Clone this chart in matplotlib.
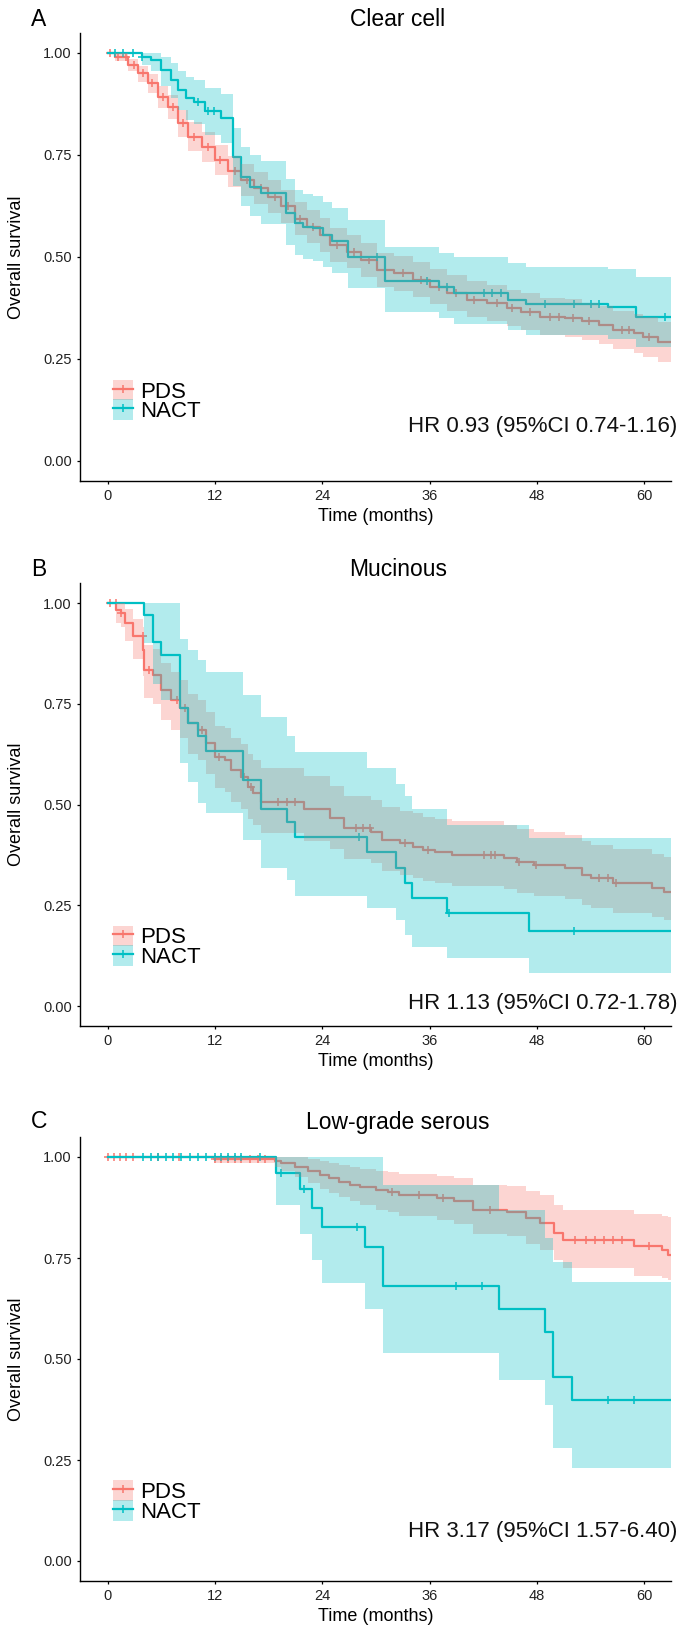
import numpy as np
import matplotlib
matplotlib.use('Agg')
import matplotlib.pyplot as plt
from matplotlib.patches import Patch
from matplotlib.lines import Line2D

plt.rcParams['font.family'] = ['Liberation Sans', 'DejaVu Sans']

# %%
# Kaplan-Meier curves: step times (months), survival, CI
groups = ['PDS', 'NACT']
colors = ['#F8766D', '#00BFC4']
titles = ['Clear cell', 'Mucinous', 'Low-grade serous']
letters = ['A', 'B', 'C']
hr_labels = ['HR 0.93 (95%CI 0.74-1.16)', 'HR 1.13 (95%CI 0.72-1.78)', 'HR 3.17 (95%CI 1.57-6.40)']
hr_y = [0.084, 0.007, 0.073]
x_end = 63
xticks = [0, 12, 24, 36, 48, 60]
yticks = [0, 0.25, 0.5, 0.75, 1.0]

# Clear cell - PDS
a_pds_t = [0, 0.8, 2.3, 3.4, 4.5, 5.6, 6.8, 7.9, 9.0, 10.5, 12.0, 13.5, 14.9, 16.4, 17.9, 19.4, 20.9,
           22.3, 23.8, 24.9, 26.8, 28.3, 30.1, 32.0, 34.2, 36.1, 37.9, 40.2, 42.4, 44.7, 46.2, 48.3,
           51.1, 53.1, 55.0, 56.5, 58.9, 59.9, 61.5]
a_pds_s = [1.0, 0.991, 0.971, 0.95, 0.926, 0.893, 0.868, 0.828, 0.795, 0.77, 0.738, 0.71, 0.689, 0.669,
           0.648, 0.624, 0.594, 0.574, 0.554, 0.529, 0.513, 0.493, 0.468, 0.46, 0.444, 0.427, 0.411,
           0.395, 0.387, 0.374, 0.366, 0.354, 0.35, 0.342, 0.333, 0.321, 0.313, 0.305, 0.292]
a_pds_lo = [1.0, 0.981, 0.955, 0.93, 0.903, 0.866, 0.838, 0.795, 0.76, 0.734, 0.701, 0.672, 0.65, 0.63,
            0.608, 0.584, 0.554, 0.534, 0.513, 0.488, 0.472, 0.451, 0.426, 0.417, 0.401, 0.384, 0.368,
            0.352, 0.343, 0.33, 0.321, 0.309, 0.304, 0.296, 0.286, 0.274, 0.265, 0.256, 0.243]
a_pds_hi = [1.0, 1.0, 0.985, 0.968, 0.948, 0.918, 0.896, 0.86, 0.83, 0.806, 0.775, 0.748, 0.728, 0.708,
            0.688, 0.664, 0.634, 0.614, 0.595, 0.57, 0.555, 0.535, 0.51, 0.503, 0.487, 0.47, 0.455,
            0.44, 0.432, 0.419, 0.412, 0.4, 0.396, 0.388, 0.38, 0.368, 0.36, 0.352, 0.34]
a_pds_c = [0.3, 1.2, 2.0, 2.9, 3.9, 5.0, 6.2, 7.3, 8.4, 9.6, 11.2, 12.6, 14.2, 15.6, 17.2, 18.7, 20.2,
           21.5, 23.0, 25.6, 27.5, 29.2, 31.0, 33.0, 35.0, 37.0, 39.0, 41.0, 43.5, 45.2, 47.2, 49.5,
           50.5, 52.0, 53.8, 57.5, 58.3, 60.5]

# Clear cell - NACT
a_nact_t = [0, 3.8, 4.9, 6.0, 7.1, 7.9, 8.8, 9.7, 10.9, 12.7, 14.0, 14.9, 15.9, 17.2, 19.9, 21.0, 21.9,
            23.0, 24.1, 25.1, 26.9, 31.0, 37.0, 38.7, 44.8, 46.8, 56.0, 59.1]
a_nact_s = [1.0, 0.99, 0.983, 0.958, 0.934, 0.909, 0.889, 0.881, 0.857, 0.84, 0.746, 0.697, 0.672, 0.656,
            0.607, 0.583, 0.574, 0.57, 0.554, 0.538, 0.501, 0.44, 0.427, 0.411, 0.395, 0.385, 0.378, 0.354]
a_nact_lo = [1.0, 0.97, 0.955, 0.92, 0.89, 0.86, 0.835, 0.825, 0.8, 0.78, 0.675, 0.625, 0.6, 0.58,
             0.53, 0.505, 0.495, 0.49, 0.475, 0.46, 0.425, 0.365, 0.35, 0.335, 0.32, 0.31, 0.3, 0.28]
a_nact_hi = [1.0, 1.0, 1.0, 0.99, 0.975, 0.955, 0.94, 0.935, 0.915, 0.9, 0.815, 0.77, 0.75, 0.735,
             0.69, 0.665, 0.655, 0.65, 0.635, 0.62, 0.59, 0.525, 0.51, 0.5, 0.485, 0.475, 0.47, 0.452]
a_nact_c = [0.8, 1.7, 2.8, 3.8, 10.1, 11.2, 11.9, 30.1, 35.7, 38.0, 42.1, 43.0, 44.0, 48.9, 52.1,
            54.0, 55.0, 62.3]

# Mucinous - PDS
b_pds_t = [0, 0.98, 1.5, 1.9, 2.83, 3.95, 4.1, 5.07, 6.0, 7.1, 8.05, 9.0, 10.1, 11.05, 12.0, 13.1, 13.8,
           14.9, 15.7, 16.2, 17.1, 22.0, 24.9, 26.4, 29.5, 30.7, 32.7, 34.1, 35.3, 36.6, 38.5, 44.3,
           45.8, 47.7, 51.1, 53.1, 54.0, 56.5, 60.9, 62.2]
b_pds_s = [1.0, 0.983, 0.975, 0.95, 0.917, 0.884, 0.834, 0.821, 0.784, 0.76, 0.739, 0.702, 0.685, 0.652,
           0.619, 0.61, 0.586, 0.569, 0.544, 0.528, 0.507, 0.49, 0.466, 0.441, 0.432, 0.412, 0.404,
           0.395, 0.387, 0.383, 0.375, 0.367, 0.358, 0.35, 0.342, 0.325, 0.317, 0.305, 0.292, 0.284]
b_pds_lo = [1.0, 0.95, 0.94, 0.905, 0.86, 0.82, 0.765, 0.75, 0.71, 0.685, 0.665, 0.625, 0.61, 0.575,
            0.54, 0.53, 0.505, 0.49, 0.465, 0.45, 0.43, 0.41, 0.39, 0.365, 0.355, 0.335, 0.325, 0.318,
            0.31, 0.305, 0.298, 0.29, 0.28, 0.272, 0.265, 0.25, 0.243, 0.232, 0.22, 0.213]
b_pds_hi = [1.0, 1.0, 1.0, 0.985, 0.96, 0.94, 0.895, 0.885, 0.85, 0.83, 0.81, 0.775, 0.76, 0.73, 0.695,
            0.69, 0.665, 0.65, 0.625, 0.61, 0.59, 0.57, 0.545, 0.52, 0.51, 0.495, 0.485, 0.478, 0.47,
            0.465, 0.458, 0.45, 0.44, 0.432, 0.425, 0.41, 0.4, 0.39, 0.378, 0.37]
b_pds_c = [0.3, 0.9, 1.5, 3.9, 4.6, 7.7, 8.6, 10.6, 12.5, 15.2, 16.0, 19.1, 20.0, 21.0, 27.8, 28.5, 29.3,
           33.2, 35.8, 42.1, 42.9, 43.3, 46.0, 47.9, 55.0, 56.0, 56.9]

# Mucinous - NACT
b_nact_t = [0, 4.1, 5.07, 6.0, 8.05, 9.0, 10.1, 11.05, 15.1, 17.1, 20.0, 21.0, 29.0, 32.2, 33.2, 34.0,
            38.0, 47.1]
b_nact_s = [1.0, 0.97, 0.904, 0.871, 0.739, 0.702, 0.669, 0.632, 0.561, 0.49, 0.457, 0.42, 0.383, 0.342,
            0.305, 0.267, 0.23, 0.185]
b_nact_lo = [1.0, 0.9, 0.8, 0.76, 0.602, 0.557, 0.503, 0.478, 0.412, 0.342, 0.313, 0.273, 0.242, 0.213,
             0.176, 0.147, 0.118, 0.083]
b_nact_hi = [1.0, 1.0, 1.0, 1.0, 0.91, 0.883, 0.859, 0.83, 0.772, 0.718, 0.669, 0.63, 0.59, 0.55, 0.52,
             0.49, 0.45, 0.416]
b_nact_c = [28.1, 38.2, 52.1]

# Low-grade serous - PDS
c_pds_t = [0, 11.9, 18.7, 19.4, 20.9, 22.4, 23.7, 24.8, 25.9, 27.1, 28.2, 30.0, 31.4, 32.6, 36.8, 38.7,
           40.9, 44.7, 46.8, 48.4, 49.9, 50.9, 58.9, 62.0, 62.7]
c_pds_s = [1.0, 0.996, 0.991, 0.985, 0.976, 0.966, 0.955, 0.947, 0.939, 0.931, 0.926, 0.918, 0.914, 0.906,
           0.898, 0.89, 0.869, 0.865, 0.848, 0.836, 0.811, 0.795, 0.779, 0.77, 0.757]
c_pds_lo = [1.0, 0.985, 0.975, 0.965, 0.95, 0.935, 0.92, 0.91, 0.9, 0.89, 0.88, 0.87, 0.865, 0.855,
            0.845, 0.835, 0.81, 0.805, 0.785, 0.77, 0.745, 0.725, 0.705, 0.7, 0.695]
c_pds_hi = [1.0, 1.0, 1.0, 1.0, 1.0, 0.995, 0.99, 0.985, 0.98, 0.975, 0.97, 0.965, 0.962, 0.958, 0.952,
            0.947, 0.93, 0.928, 0.915, 0.905, 0.88, 0.868, 0.858, 0.855, 0.852]
c_pds_c = [0.0, 0.7, 1.4, 2.1, 2.8, 5.6, 8.0, 12.0, 12.7, 13.45, 14.2, 14.9, 15.9, 16.8, 17.6, 31.8,
           34.8, 37.5, 42.8, 52.3, 53.5, 54.5, 55.5, 56.5, 57.5, 60.5]

# Low-grade serous - NACT
c_nact_t = [0, 18.85, 21.5, 22.9, 24.0, 28.8, 30.8, 43.8, 48.9, 49.8, 51.9]
c_nact_s = [1.0, 0.96, 0.92, 0.873, 0.826, 0.778, 0.68, 0.625, 0.568, 0.455, 0.398]
c_nact_lo = [1.0, 0.88, 0.81, 0.745, 0.687, 0.625, 0.514, 0.447, 0.386, 0.279, 0.229]
c_nact_hi = [1.0, 1.0, 1.0, 1.0, 1.0, 1.0, 0.93, 0.87, 0.8, 0.74, 0.69]
c_nact_c = [3.95, 4.88, 5.63, 6.56, 7.3, 8.24, 9.17, 10.1, 11.0, 11.96, 12.7, 13.45, 14.2, 14.9, 17.0,
            19.4, 22.0, 27.9, 38.9, 41.9, 56.0, 58.9]

panels = [
    [(a_pds_t, a_pds_s, a_pds_lo, a_pds_hi, a_pds_c), (a_nact_t, a_nact_s, a_nact_lo, a_nact_hi, a_nact_c)],
    [(b_pds_t, b_pds_s, b_pds_lo, b_pds_hi, b_pds_c), (b_nact_t, b_nact_s, b_nact_lo, b_nact_hi, b_nact_c)],
    [(c_pds_t, c_pds_s, c_pds_lo, c_pds_hi, c_pds_c), (c_nact_t, c_nact_s, c_nact_lo, c_nact_hi, c_nact_c)],
]

# %%
W, H = 681, 1625
fig = plt.figure(figsize=(W / 100, H / 100), dpi=100)

# pixel rows of y=1 and y=0 for each panel, title row
y1_px = [53, 603, 1157]
y0_px = [461, 1006, 1561]
title_px = [20, 570, 1122]
left_px, right_px = 79.5, 671

for k in range(3):
    span = y0_px[k] - y1_px[k]
    bot = y0_px[k] + 0.05 * span
    top = y1_px[k] - 0.05 * span
    ax = fig.add_axes([left_px / W, 1 - bot / H, (right_px - left_px) / W, (bot - top) / H])

    for (t, s, lo, hi, cens), col in zip(panels[k], colors):
        tx = list(t) + [x_end]
        ax.step(tx, list(s) + [s[-1]], where='post', color=col, lw=1.6, zorder=2)
        idx = np.searchsorted(t, cens, side='right') - 1
        ax.scatter(cens, np.array(s)[idx], marker='+', s=30, color=col, lw=1.1, zorder=2)
    for (t, s, lo, hi, cens), col in zip(panels[k], colors):
        tx = list(t) + [x_end]
        ax.fill_between(tx, list(lo) + [lo[-1]], list(hi) + [hi[-1]], step='post',
                        color=col, alpha=0.3, lw=0, zorder=3)

    ax.set_xlim(-3.15, x_end)
    ax.set_ylim(-0.05, 1.05)
    ax.set_xticks(xticks)
    ax.set_yticks(yticks)
    ax.set_yticklabels(['%.2f' % v for v in yticks])
    for sp in ['top', 'right']:
        ax.spines[sp].set_visible(False)
    for sp in ['left', 'bottom']:
        ax.spines[sp].set_linewidth(1.0)
    ax.tick_params(length=2.5, width=0.9, labelsize=10.5, labelcolor='#222222', pad=3)

    ax.set_xlabel('Time (months)', fontsize=13, va='center')
    ax.xaxis.set_label_coords(0.5, -35 / (bot - top))
    ax.set_ylabel('Overall survival', fontsize=13, va='center')
    ax.yaxis.set_label_coords(-(left_px - 17) / (right_px - left_px), 0.5)

    handles = [(Patch(facecolor=c, alpha=0.3, edgecolor='none'),
                Line2D([], [], color=c, lw=1.6, marker='+', ms=6, mew=1.1)) for c in colors]
    ax.legend(handles, groups, loc='center left', bbox_to_anchor=(0.0566, 0.147),
              bbox_transform=ax.get_yaxis_transform(), frameon=False, fontsize=16,
              handlelength=0.9, handleheight=1.05, handletextpad=0.3, labelspacing=-0.15,
              borderpad=0, borderaxespad=0)

    ax.text(1.011, hr_y[k], hr_labels[k], transform=ax.get_yaxis_transform(),
            ha='right', va='center', fontsize=16, color='#111111')
    fig.text(398 / W, 1 - title_px[k] / H, titles[k], ha='center', va='center', fontsize=16.5)
    fig.text(39 / W, 1 - title_px[k] / H, letters[k], ha='center', va='center', fontsize=16.5)

fig.savefig('out.png', dpi=100)
